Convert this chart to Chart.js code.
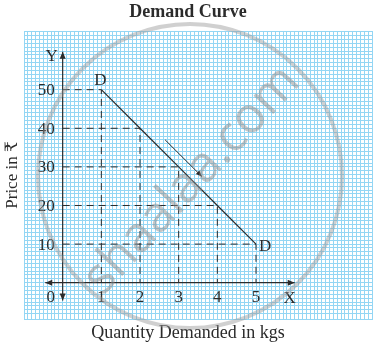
<!DOCTYPE html>
<html>
<head>
<meta charset="utf-8">
<script src="https://cdn.jsdelivr.net/npm/chart.js@4"></script>
<style>
body { margin: 0; background: #fff; }
canvas { display: block; }
</style>
</head>
<body>
<canvas id="demandChart" width="377" height="348"></canvas>
<script>
// data
const quantity = [1, 2, 3, 4, 5];
const price = [50, 40, 30, 20, 10];
const xTicks = [1, 2, 3, 4, 5];
const yTicks = [10, 20, 30, 40, 50];
const chartTitle = "Demand Curve";
const xTitle = "Quantity Demanded in kgs";
const yTitle = "Price in ₹";

const serif = '"Liberation Serif", "DejaVu Serif", serif';
const ink = "#2b2b2b";

// dashed guides from each point back to the axes
const guides = quantity.map((q, i) => ({
	data: [{ x: 0, y: price[i] }, { x: q, y: price[i] }, { x: q, y: 0 }],
	borderColor: ink,
	borderWidth: 1,
	borderDash: [7, 5],
	pointRadius: 0,
	fill: false
}));

function arrowHead(ctx, x0, y0, x1, y1, len, half) {
	const a = Math.atan2(y1 - y0, x1 - x0);
	ctx.beginPath();
	ctx.moveTo(x1, y1);
	ctx.lineTo(x1 - len * Math.cos(a) + half * Math.sin(a), y1 - len * Math.sin(a) - half * Math.cos(a));
	ctx.lineTo(x1 - len * Math.cos(a) - half * Math.sin(a), y1 - len * Math.sin(a) + half * Math.cos(a));
	ctx.closePath();
	ctx.fill();
}

const decor = {
	id: "decor",
	afterDatasetsDraw(chart) {
		const ctx = chart.ctx;
		const xs = chart.scales.x;
		const ys = chart.scales.y;
		const px = v => xs.getPixelForValue(v);
		const py = v => ys.getPixelForValue(v);
		const ox = px(0), oy = py(0);

		ctx.save();
		ctx.strokeStyle = ink;
		ctx.fillStyle = ink;
		ctx.lineWidth = 1.2;

		// axes with arrows at both ends
		const xl = px(-0.45), xr = px(6.0);
		const yt = py(59.8), yb = py(-4.6);
		ctx.beginPath();
		ctx.moveTo(xl, oy); ctx.lineTo(xr, oy);
		ctx.moveTo(ox, yb); ctx.lineTo(ox, yt);
		ctx.stroke();
		arrowHead(ctx, xr, oy, xl, oy, 7, 3);
		arrowHead(ctx, xl, oy, xr, oy, 7, 3);
		arrowHead(ctx, ox, yb, ox, yt, 7, 3);
		arrowHead(ctx, ox, yt, ox, yb, 7, 3);

		// movement along the curve
		const a0 = { x: px(2.65), y: py(37) };
		const a1 = { x: px(3.6), y: py(27.5) };
		ctx.lineWidth = 1;
		ctx.beginPath();
		ctx.moveTo(a0.x, a0.y); ctx.lineTo(a1.x, a1.y);
		ctx.stroke();
		arrowHead(ctx, a0.x, a0.y, a1.x, a1.y, 6, 2.5);

		// tick labels
		ctx.font = "17px " + serif;
		ctx.textBaseline = "middle";
		ctx.textAlign = "right";
		yTicks.forEach(v => ctx.fillText(String(v), ox - 8, py(v) + 1));
		ctx.textAlign = "center";
		xTicks.forEach(v => ctx.fillText(String(v), px(v), oy + 15));
		ctx.fillText("0", ox - 12, oy + 15);
		ctx.fillText("X", xr - 5, oy + 16);
		ctx.fillText("Y", ox - 11, yt + 5);

		// curve labels
		const n = quantity.length - 1;
		ctx.fillText("D", px(quantity[0]) - 1, py(price[0]) - 9);
		ctx.textAlign = "left";
		ctx.fillText("D", px(quantity[n]) + 3, py(price[n]) + 2);

		// titles
		ctx.textAlign = "center";
		ctx.font = "bold 18px " + serif;
		ctx.fillText(chartTitle, 188, 12);
		ctx.font = "18px " + serif;
		ctx.fillText(xTitle, 188, 333);
		ctx.translate(13, 175);
		ctx.rotate(-Math.PI / 2);
		ctx.font = "17px " + serif;
		ctx.fillText(yTitle, 0, 0);
		ctx.restore();

		// watermark
		ctx.save();
		ctx.strokeStyle = "rgba(150,150,150,0.45)";
		ctx.lineWidth = 4;
		ctx.beginPath();
		ctx.arc(190, 176, 152, 0, Math.PI * 2);
		ctx.stroke();
		ctx.translate(192, 180);
		ctx.rotate(-47 * Math.PI / 180);
		ctx.fillStyle = "rgba(140,140,140,0.5)";
		ctx.font = '50px "Open Sans", sans-serif';
		ctx.textAlign = "center";
		ctx.textBaseline = "middle";
		ctx.fillText("shaalaa.com", 0, 0);
		ctx.restore();
	}
};

const gridColor = "rgb(148,214,244)";

new Chart(document.getElementById("demandChart"), {
	type: "line",
	data: {
		datasets: [
			{
				data: quantity.map((q, i) => ({ x: q, y: price[i] })),
				borderColor: ink,
				borderWidth: 1.2,
				pointRadius: 0,
				fill: false
			},
			...guides
		]
	},
	options: {
		responsive: false,
		animation: false,
		devicePixelRatio: 1,
		layout: { padding: { left: 24, top: 31, right: 5, bottom: 29 } },
		scales: {
			x: {
				type: "linear",
				min: -1,
				max: 8,
				ticks: { display: false, stepSize: 0.1 },
				grid: { color: gridColor, drawTicks: false },
				border: { color: gridColor }
			},
			y: {
				type: "linear",
				min: -9.4,
				max: 65.2,
				ticks: { display: false, stepSize: 1 },
				grid: { color: gridColor, drawTicks: false },
				border: { color: gridColor }
			}
		},
		plugins: {
			legend: { display: false },
			tooltip: { enabled: false }
		}
	},
	plugins: [decor]
});
</script>
</body>
</html>
